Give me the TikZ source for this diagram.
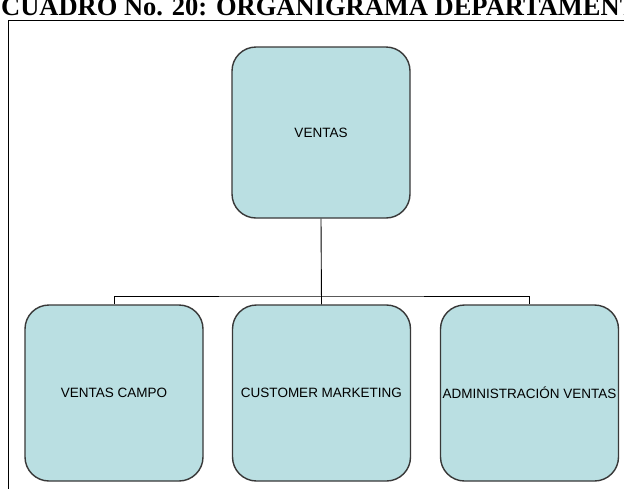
\documentclass[tikz,border=0pt]{standalone}
\usepackage{fontspec}
\setmainfont{Liberation Sans}
\newfontfamily\titlefont{Liberation Serif}
\definecolor{boxfill}{RGB}{186,223,226}
\definecolor{boxline}{RGB}{56,56,56}
\tikzset{
  unit/.style={draw=boxline, fill=boxfill, line width=1.4pt, rounded corners=24pt,
    minimum width=178pt, minimum height=176pt, inner sep=0pt, font=\fontsize{13.5}{15}\selectfont},
}
\begin{document}
\begin{tikzpicture}[x=1pt,y=-1pt]
      \useasboundingbox (0,0) rectangle (624,488);
      \clip (0,0) rectangle (624,488);
      \fill[white] (0,0) rectangle (624,488);
      % heading and frame
      \node[anchor=base west, inner sep=0pt, font=\titlefont\bfseries\fontsize{26.5}{26.5}\selectfont]
        (title) at (1,15.5) {CUADRO No. 20: ORGANIGRAMA DEPARTAMENTO};
      \draw[line width=1pt] (8,600) |- (700,20);
      % units
      \node[unit, minimum height=171pt] (ventas) at (321,132.5) {VENTAS};
      \node[unit] (campo) at (114,393) {VENTAS CAMPO};
      \node[unit] (marketing) at (321.5,393) {CUSTOMER MARKETING};
      \node[unit] (admin) at (529.5,393) {ADMINISTRACI\'ON VENTAS};
      \coordinate (bus) at (321,296);
      \begin{scope}[-, line width=0.9pt]
        \draw (ventas.south) to (marketing.north);
        \draw (campo.north) |- (bus) -| (admin.north);
      \end{scope}
    \end{tikzpicture}
\end{document}
